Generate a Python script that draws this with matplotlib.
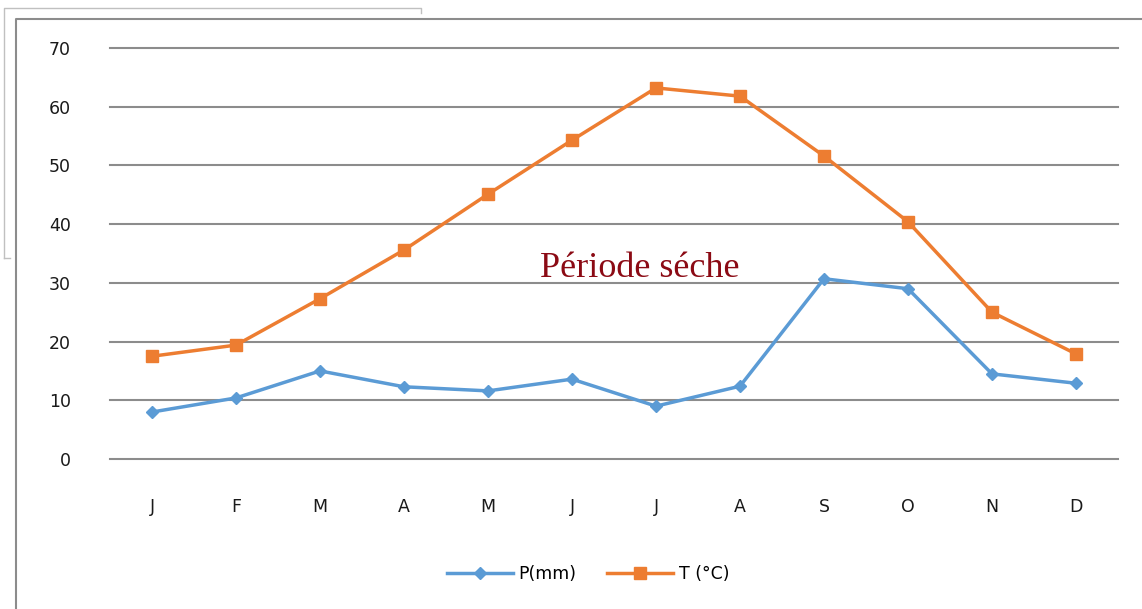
import matplotlib.pyplot as plt
from matplotlib.lines import Line2D

months = ['J', 'F', 'M', 'A', 'M', 'J', 'J', 'A', 'S', 'O', 'N', 'D']
precip = [8.0, 10.4, 15.0, 12.3, 11.6, 13.6, 9.0, 12.4, 30.7, 29.0, 14.5, 12.9]
temp = [17.5, 19.4, 27.3, 35.6, 45.1, 54.3, 63.2, 61.8, 51.6, 40.4, 25.0, 17.9]

W, H = 1142, 609
fig = plt.figure(figsize=(W / 100, H / 100), dpi=100)


def px(x, y):
    return x / W, 1 - y / H


# frames around the chart
def fline(xs, ys, color, lw):
    fx = [x / W for x in xs]
    fy = [1 - y / H for y in ys]
    fig.add_artist(Line2D(fx, fy, color=color, lw=lw, transform=fig.transFigure))


fline([4, 4, 421, 421], [258, 8, 8, 13], '#c0c0c0', 1.0)
fline([4, 10], [258, 258], '#c0c0c0', 1.0)
fline([16, 16, 1142], [609, 19, 19], '#8c8c8c', 1.5)

left, right = 110, 1118
top, bottom = 48, 459
ax = fig.add_axes([left / W, 1 - bottom / H, (right - left) / W, (bottom - top) / H])

x = list(range(len(months)))
ax.plot(x, precip, color='#5B9BD5', lw=2.5, marker='D', ms=6, label='P(mm)', clip_on=False)
ax.plot(x, temp, color='#ED7D31', lw=2.5, marker='s', ms=9, label='T (°C)', clip_on=False)

ax.set_xlim(-0.5, 11.5)
ax.set_ylim(0, 70)
ax.set_yticks(range(0, 71, 10))
ax.set_xticks(x)
ax.set_xticklabels(months)
ax.grid(axis='y', color='#8c8c8c', lw=1.5)
for gl in ax.get_ygridlines():
    gl.set_clip_on(False)
ax.set_axisbelow(True)
for s in ax.spines.values():
    s.set_visible(False)
ax.tick_params(axis='y', length=0, pad=28, labelsize=12.5, labelcolor='#1a1a1a')
ax.tick_params(axis='x', length=0, pad=28, labelsize=12.5, labelcolor='#1a1a1a')

ax.text(5.81, 32.5, 'Période séche', family='Liberation Serif', fontsize=26,
        color='#8B0A14', ha='center', va='center')

fig.legend(loc='center', bbox_to_anchor=px(588, 574), ncol=2, frameon=False,
           fontsize=12.5, handlelength=3.8, columnspacing=1.8, handletextpad=0.3)

fig.savefig('out.png', dpi=100)
